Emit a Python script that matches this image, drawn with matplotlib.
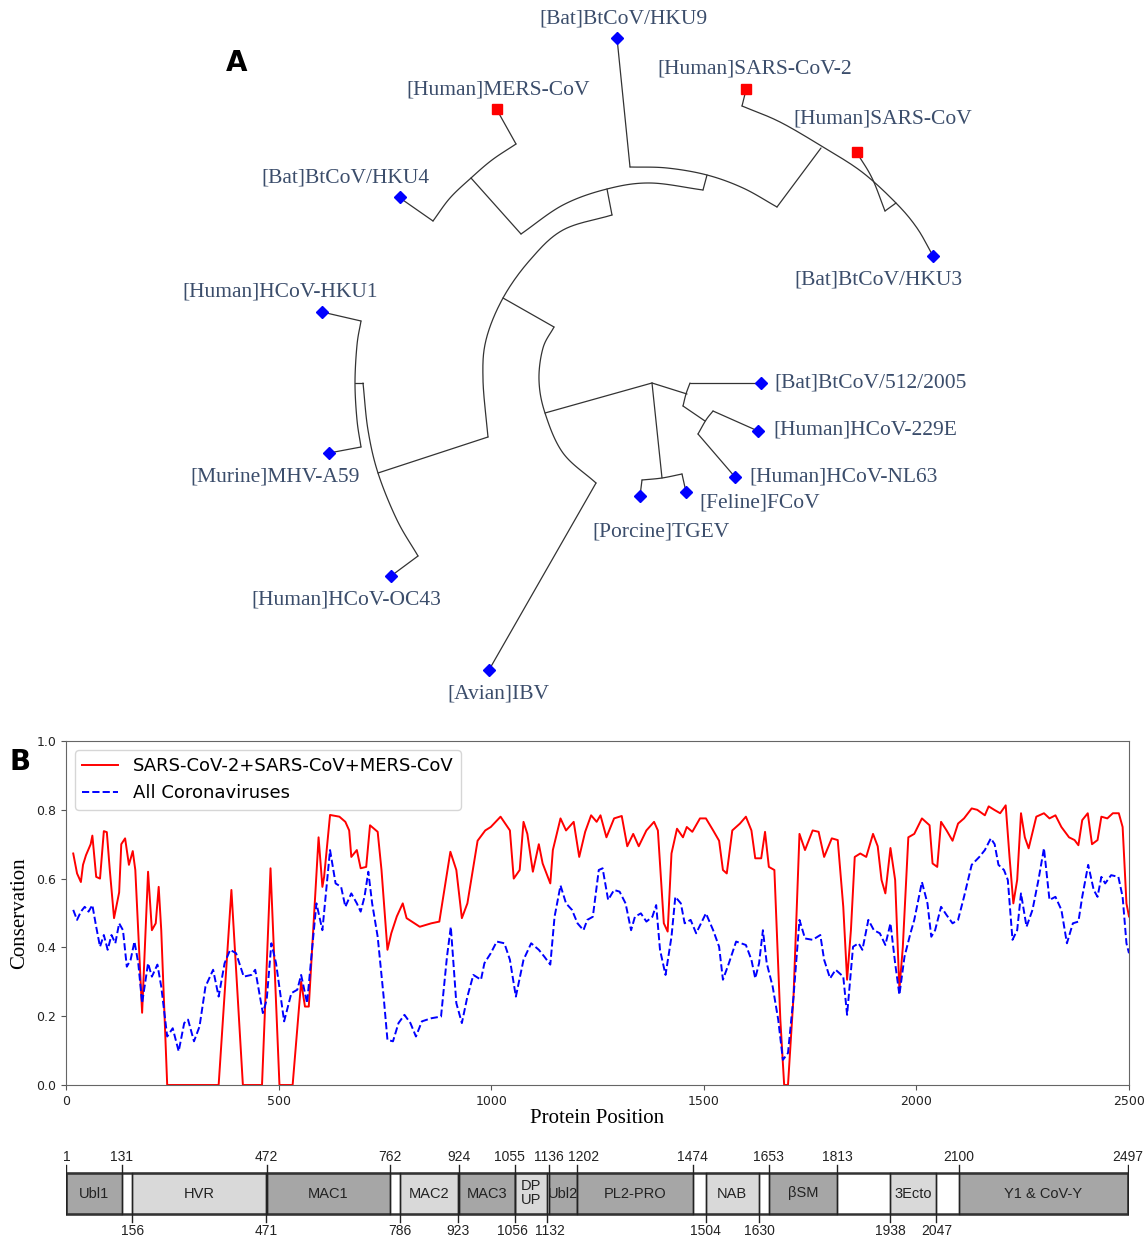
import numpy as np
import matplotlib.pyplot as plt
from matplotlib.patches import Rectangle

# ---------------- panel A: tree layout (pixel-like layout coordinates) ----------------
leaf_names = ["[Bat]BtCoV/HKU9", "[Human]SARS-CoV-2", "[Human]SARS-CoV", "[Bat]BtCoV/HKU3",
              "[Human]MERS-CoV", "[Bat]BtCoV/HKU4", "[Human]HCoV-HKU1", "[Murine]MHV-A59",
              "[Human]HCoV-OC43", "[Avian]IBV", "[Porcine]TGEV", "[Feline]FCoV",
              "[Human]HCoV-NL63", "[Human]HCoV-229E", "[Bat]BtCoV/512/2005"]
leaf_human_pathogen = [False, True, True, False, True, False, False, False,
                       False, False, False, False, False, False, False]
leaf_xy = [(617, 38), (746, 89), (857, 152), (933, 256), (497, 109), (400, 197),
           (322, 312), (329, 453), (391, 576), (489, 670), (640, 496), (686, 492),
           (735, 477), (758, 431), (761, 383)]
label_xy = [(623, 19), (755, 69), (883, 119), (878, 280), (498, 90), (345, 178),
            (280, 292), (275, 477), (346, 600), (498, 694), (661, 532), (760, 503),
            (844, 477), (865, 430), (871, 383)]

# branches: 2 points = straight, more = smooth curve through the points
branches = [
    [(617, 38), (630, 167)],
    [(630, 167), (667, 168), (707, 175), (743, 188), (777, 207)],
    [(707, 175), (703, 190)],
    [(777, 207), (821, 148)],
    [(746, 90), (742, 106)],
    [(742, 106), (780, 122), (823, 147), (862, 172), (896, 203), (917, 228), (933, 256)],
    [(857, 153), (872, 178), (885, 211)],
    [(885, 211), (896, 203)],
    [(521, 234), (563, 205), (607, 189), (650, 183), (703, 190)],
    [(607, 189), (612, 215)],
    [(612, 215), (563, 230), (530, 260), (503, 298), (486, 340), (483, 380), (488, 437)],
    [(471, 178), (521, 234)],
    [(433, 221), (450, 198), (471, 178), (492, 160), (516, 144)],
    [(516, 144), (497, 110)],
    [(433, 221), (400, 198)],
    [(503, 298), (554, 327)],
    [(554, 327), (543, 348), (539, 380), (545, 413), (563, 453), (596, 483)],
    [(596, 483), (489, 670)],
    [(545, 413), (652, 383)],
    [(652, 383), (662, 478)],
    [(642, 480), (662, 478), (682, 474)],
    [(642, 480), (640, 496)],
    [(682, 474), (686, 492)],
    [(652, 383), (687, 394)],
    [(690, 383), (686, 394), (683, 406)],
    [(690, 383), (761, 383)],
    [(683, 406), (705, 421)],
    [(713, 411), (706, 420), (698, 434)],
    [(713, 411), (758, 431)],
    [(698, 434), (735, 477)],
    [(488, 437), (378, 473)],
    [(363, 383), (368, 430), (378, 473), (397, 520), (418, 556)],
    [(418, 556), (391, 576)],
    [(355, 383), (363, 383)],
    [(361, 321), (357, 345), (355, 383), (357, 420), (361, 447)],
    [(322, 312), (361, 321)],
    [(361, 447), (329, 453)],
]

# ---------------- panel B: conservation profiles ----------------
red_x = [17, 26, 35, 40, 47, 58, 62, 67, 71, 80, 89, 96, 103, 113, 125, 130, 139, 148, 157, 163,
         179, 193, 202, 211, 218, 224, 238, 359, 389, 416, 461, 481, 502, 533, 553, 562, 571, 594,
         603, 607, 621, 643, 657, 666, 671, 684, 693, 706, 715, 733, 742, 756, 765, 778, 792, 801,
         832, 859, 878, 891, 904, 918, 931, 944, 968, 986, 999, 1022, 1044, 1053, 1067, 1076, 1085,
         1098, 1112, 1121, 1139, 1145, 1163, 1176, 1194, 1207, 1221, 1235, 1248, 1257, 1271, 1289,
         1307, 1320, 1334, 1347, 1365, 1383, 1392, 1406, 1415, 1424, 1437, 1451, 1460, 1473, 1491,
         1505, 1522, 1536, 1545, 1554, 1567, 1585, 1599, 1612, 1621, 1635, 1644, 1653, 1666, 1680,
         1689, 1698, 1711, 1725, 1738, 1756, 1770, 1783, 1801, 1815, 1828, 1837, 1846, 1855, 1868,
         1882, 1898, 1909, 1918, 1927, 1939, 1950, 1960, 1968, 1981, 1995, 2013, 2031, 2038, 2049,
         2058, 2071, 2085, 2098, 2112, 2130, 2143, 2161, 2170, 2183, 2197, 2210, 2219, 2228, 2237,
         2246, 2255, 2264, 2282, 2300, 2313, 2327, 2341, 2359, 2372, 2381, 2390, 2403, 2413, 2426,
         2435, 2449, 2462, 2476, 2485, 2494, 2500]
red_y = [.673, .615, .59, .64, .668, .70, .725, .66, .605, .60, .738, .735, .625, .485, .56, .70, .717,
         .64, .68, .625, .21, .62, .45, .47, .576, .45, 0, 0, .567, 0, 0, .63, 0, 0, .30, .228, .228,
         .72, .576, .605, .785, .78, .765, .74, .663, .683, .63, .634, .755, .736, .625, .393, .441,
         .49, .528, .485, .46, .47, .475, .576, .678, .625, .485, .528, .71, .74, .75, .78, .74, .60,
         .625, .765, .73, .62, .70, .644, .586, .683, .775, .74, .765, .663, .736, .784, .765, .784,
         .72, .775, .782, .694, .73, .694, .74, .765, .74, .47, .446, .673, .745, .72, .75, .736,
         .775, .775, .74, .71, .625, .615, .74, .76, .78, .74, .659, .659, .736, .634, .625, .19, 0,
         0, .257, .73, .683, .74, .736, .663, .717, .712, .518, .306, .45, .663, .673, .663, .73,
         .694, .596, .557, .689, .596, .277, .40, .72, .73, .775, .755, .644, .634, .765, .74, .71,
         .76, .775, .804, .80, .784, .81, .80, .79, .813, .663, .528, .596, .79, .72, .688, .78, .79,
         .775, .784, .75, .72, .712, .697, .77, .79, .70, .712, .78, .775, .79, .79, .75, .528, .49]

blue_x = [17, 26, 35, 44, 53, 62, 71, 80, 89, 98, 107, 116, 125, 134, 143, 152, 161, 170, 179, 193,
          202, 215, 224, 238, 251, 265, 278, 287, 301, 314, 328, 346, 359, 373, 386, 400, 418, 436,
          445, 463, 472, 483, 494, 513, 530, 544, 553, 567, 580, 589, 603, 621, 634, 647, 657, 671,
          684, 693, 702, 711, 720, 733, 747, 756, 769, 782, 796, 810, 823, 837, 859, 882, 896, 905,
          918, 931, 944, 958, 976, 984, 999, 1013, 1031, 1044, 1058, 1076, 1094, 1112, 1125, 1139,
          1149, 1163, 1176, 1190, 1203, 1217, 1226, 1239, 1253, 1262, 1275, 1289, 1302, 1316, 1329,
          1338, 1352, 1365, 1379, 1388, 1397, 1410, 1424, 1433, 1446, 1455, 1469, 1482, 1505, 1522,
          1536, 1545, 1559, 1576, 1599, 1612, 1621, 1630, 1639, 1648, 1662, 1675, 1686, 1698, 1711,
          1725, 1738, 1756, 1774, 1783, 1797, 1810, 1828, 1837, 1851, 1864, 1873, 1887, 1900, 1914,
          1927, 1939, 1950, 1960, 1972, 1986, 1995, 2013, 2026, 2035, 2044, 2058, 2071, 2085, 2098,
          2112, 2130, 2148, 2161, 2175, 2184, 2193, 2206, 2215, 2226, 2237, 2246, 2259, 2273, 2287,
          2300, 2313, 2327, 2341, 2354, 2368, 2381, 2390, 2404, 2417, 2426, 2435, 2444, 2458, 2475,
          2485, 2494, 2500]
blue_y = [.509, .48, .504, .518, .504, .523, .46, .402, .436, .393, .436, .412, .47, .45, .344, .364,
          .417, .354, .238, .354, .315, .35, .286, .141, .165, .098, .18, .19, .127, .17, .286, .335,
          .257, .354, .393, .383, .315, .32, .335, .209, .248, .412, .354, .185, .267, .277, .32,
          .238, .412, .528, .45, .683, .586, .576, .518, .557, .528, .504, .547, .62, .528, .431,
          .257, .131, .127, .18, .204, .18, .141, .185, .194, .199, .373, .46, .238, .18, .257, .32,
          .306, .354, .383, .417, .412, .364, .257, .364, .412, .393, .373, .35, .489, .58, .528,
          .509, .47, .45, .48, .489, .625, .63, .538, .567, .562, .528, .45, .489, .499, .475, .489,
          .523, .393, .32, .431, .547, .528, .47, .48, .441, .499, .45, .402, .306, .354, .417, .407,
          .364, .31, .354, .45, .354, .286, .19, .073, .093, .257, .48, .426, .422, .436, .364, .31,
          .335, .315, .204, .402, .412, .393, .48, .45, .441, .407, .47, .354, .262, .373, .441, .48,
          .59, .528, .431, .45, .518, .494, .47, .48, .547, .64, .663, .683, .717, .70, .64, .625,
          .596, .422, .45, .557, .46, .509, .596, .688, .538, .547, .509, .412, .47, .475, .547, .64,
          .567, .547, .605, .586, .61, .605, .547, .412, .383]

# ---------------- panel C: nsp3 domain map ----------------
domain_names = ["Ubl1", "HVR", "MAC1", "MAC2", "MAC3", "DP\nUP", "Ubl2", "PL2-PRO",
                "NAB", "\u03b2SM", "3Ecto", "Y1 & CoV-Y"]
domain_start = [1, 156, 472, 786, 924, 1056, 1136, 1202, 1504, 1653, 1938, 2100]
domain_end = [131, 471, 762, 923, 1055, 1132, 1202, 1474, 1630, 1813, 2047, 2497]
domain_dark = [True, False, True, False, True, False, True, True, False, True, False, True]
top_ticks = [1, 131, 472, 762, 924, 1055, 1136, 1202, 1474, 1653, 1813, 2100, 2497]
bottom_ticks = [156, 471, 786, 923, 1056, 1132, 1504, 1630, 1938, 2047]
# small sideways nudges (points) for crowded position labels
label_nudge = {1055: -4, 1202: 5, 1056: -2, 1132: 2}


def smooth(pts, n=24):
    pts = np.asarray(pts, dtype=float)
    if len(pts) < 3:
        return pts
    P = np.vstack([2 * pts[0] - pts[1], pts, 2 * pts[-1] - pts[-2]])
    t = np.linspace(0, 1, n, endpoint=False)[:, None]
    out = []
    for i in range(1, len(P) - 2):
        p0, p1, p2, p3 = P[i - 1], P[i], P[i + 1], P[i + 2]
        out.append(0.5 * (2 * p1 + (-p0 + p2) * t + (2 * p0 - 5 * p1 + 4 * p2 - p3) * t ** 2
                          + (-p0 + 3 * p1 - 3 * p2 + p3) * t ** 3))
    out.append(pts[-1:])
    return np.vstack(out)


W, H = 1147, 1239
fig = plt.figure(figsize=(W / 100, H / 100), dpi=100)

# panel A
ax_a = fig.add_axes([0, 1 - 720 / H, 1, 720 / H])
ax_a.set_xlim(0, W)
ax_a.set_ylim(720, 0)
ax_a.axis("off")
for br in branches:
    c = smooth(br)
    ax_a.plot(c[:, 0], c[:, 1], color="#333333", lw=0.9, solid_capstyle="round", zorder=1)
label_color = "#3b4d6b"
for name, hp, (x, y), (lx, ly) in zip(leaf_names, leaf_human_pathogen, leaf_xy, label_xy):
    if hp:
        ax_a.plot(x, y, marker="s", color="red", ms=6.5, zorder=3)
    else:
        ax_a.plot(x, y, marker="D", color="blue", ms=6, zorder=3)
    ax_a.text(lx, ly, name, ha="center", va="center", fontsize=15.5,
              family="Liberation Serif", color=label_color)
fig.text(237 / W, 1 - 63 / H, "A", fontsize=20, fontweight="bold", ha="center", va="center")

# panel B
ax_b = fig.add_axes([66 / W, 1 - 1085 / H, 1063 / W, 344 / H])
ax_b.plot(red_x, red_y, color="red", lw=1.4, label="SARS-CoV-2+SARS-CoV+MERS-CoV")
ax_b.plot(blue_x, blue_y, color="blue", lw=1.4, ls="--", label="All Coronaviruses")
ax_b.set_xlim(0, 2500)
ax_b.set_ylim(0, 1.0)
ax_b.set_xticks([0, 500, 1000, 1500, 2000, 2500])
ax_b.set_yticks([0.0, 0.2, 0.4, 0.6, 0.8, 1.0])
ax_b.tick_params(labelsize=9, color="#555555", labelcolor="#222222")
for s in ax_b.spines.values():
    s.set_color("#666666")
ax_b.set_xlabel("Protein Position", family="Liberation Serif", fontsize=15, labelpad=1)
ax_b.set_ylabel("Conservation", family="Liberation Serif", fontsize=15, labelpad=5)
ax_b.legend(loc="upper left", fontsize=13, handlelength=2.0)
fig.text(20 / W, 1 - 762 / H, "B", fontsize=20, fontweight="bold", ha="center", va="center")

# panel C
ax_c = fig.add_axes([66 / W, 0, 1063 / W, 99 / H])
ax_c.set_xlim(0, 2500)
ax_c.set_ylim(1239, 1140)
ax_c.axis("off")
bar_top, bar_bot = 1173, 1214
for name, s, e, dark in zip(domain_names, domain_start, domain_end, domain_dark):
    ax_c.add_patch(Rectangle((s, bar_top), e - s, bar_bot - bar_top,
                             facecolor="#a6a6a6" if dark else "#d9d9d9",
                             edgecolor="#222222", lw=1.0, zorder=1))
    ax_c.text((s + e) / 2, (bar_top + bar_bot) / 2, name, ha="center", va="center",
              fontsize=10.5, family="Liberation Sans", color="#222222",
              linespacing=1.0, zorder=3)
ax_c.add_patch(Rectangle((1, bar_top), 2496, bar_bot - bar_top, facecolor="none",
                         edgecolor="#333333", lw=1.8, zorder=2))
for v in top_ticks:
    ax_c.plot([v, v], [1165, bar_bot], color="#222222", lw=1.0, zorder=2)
    ax_c.annotate(str(v), (v, 1157), xytext=(label_nudge.get(v, 0), 0),
                  textcoords="offset points", ha="center", va="center", fontsize=10,
                  family="Liberation Sans", color="#222222")
for v in bottom_ticks:
    ax_c.plot([v, v], [bar_top, 1222], color="#222222", lw=1.0, zorder=2)
    ax_c.annotate(str(v), (v, 1231), xytext=(label_nudge.get(v, 0), 0),
                  textcoords="offset points", ha="center", va="center", fontsize=10,
                  family="Liberation Sans", color="#222222")

fig.savefig("out.png", dpi=100)
